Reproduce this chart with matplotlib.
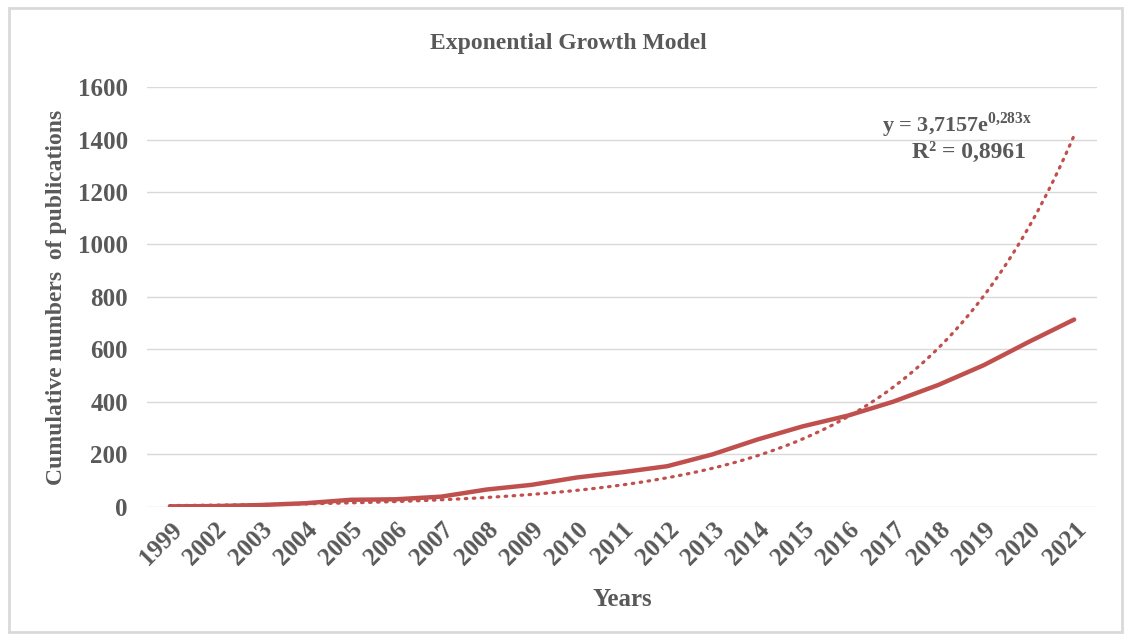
import numpy as np
import matplotlib
matplotlib.use("Agg")
import matplotlib.pyplot as plt
from matplotlib.patches import Rectangle

# data
years = ["1999", "2002", "2003", "2004", "2005", "2006", "2007", "2008", "2009", "2010",
         "2011", "2012", "2013", "2014", "2015", "2016", "2017", "2018", "2019", "2020", "2021"]
cumulative = [2, 3, 7, 14, 27, 29, 39, 66, 84, 112, 132, 155, 200, 257, 307, 348,
              401, 465, 540, 629, 714]

# Excel exponential trendline, y = a*e^(b*x), x = 1..n
trend_a = 3.7157
trend_b = 0.283
trend_r2 = "0,8961"

line_color = "#C0504D"
text_color = "#595959"
grid_color = "#D9D9D9"

plt.rcParams["font.family"] = ["Liberation Serif", "DejaVu Serif"]
plt.rcParams["font.weight"] = "bold"
plt.rcParams["mathtext.fontset"] = "custom"
plt.rcParams["mathtext.rm"] = "Liberation Serif:bold"

fig = plt.figure(figsize=(11.33, 6.4), dpi=100)
ax = fig.add_axes([0.130, 0.208, 0.838, 0.656])

x = np.arange(len(years))
ax.plot(x, cumulative, color=line_color, lw=3.2, solid_capstyle="round", zorder=3)

xs = np.linspace(0, len(years) - 1, 300)
ax.plot(xs, trend_a * np.exp(trend_b * (xs + 1)), color=line_color, lw=2.3,
        linestyle=(0, (0.5, 2.0)), dash_capstyle="round", zorder=2)

ax.set_xlim(-0.5, len(years) - 0.5)
ax.set_ylim(0, 1600)
ax.set_yticks(np.arange(0, 1601, 200))
ax.set_xticks(x)
ax.set_xticklabels(years, rotation=45, ha="right", rotation_mode="anchor")
ax.tick_params(length=0, labelsize=18, labelcolor=text_color, pad=8)
ax.tick_params(axis="y", pad=14)
ax.grid(axis="y", color=grid_color, lw=1)
ax.set_axisbelow(True)
for s in ax.spines.values():
    s.set_visible(False)

ax.set_xlabel("Years", fontsize=18, fontweight="bold", color=text_color, labelpad=13)
ax.set_ylabel("Cumulative numbers  of publications", fontsize=17, fontweight="bold",
              color=text_color, labelpad=8)
fig.text(0.502, 0.932, "Exponential Growth Model", ha="center", va="center",
         fontsize=17, fontweight="bold", color=text_color)

fig.text(0.845, 0.805, r"y = 3,7157e$^{\mathrm{0{,}283x}}$", ha="center", va="center",
         fontsize=16, fontweight="bold", color=text_color)
fig.text(0.855, 0.762, "R² = " + trend_r2, ha="center", va="center",
         fontsize=17, fontweight="bold", color=text_color)

fig.patches.append(Rectangle((0.008, 0.012), 0.982, 0.976, transform=fig.transFigure,
                             fill=False, edgecolor=grid_color, lw=2))

fig.savefig("out.png", dpi=100)
